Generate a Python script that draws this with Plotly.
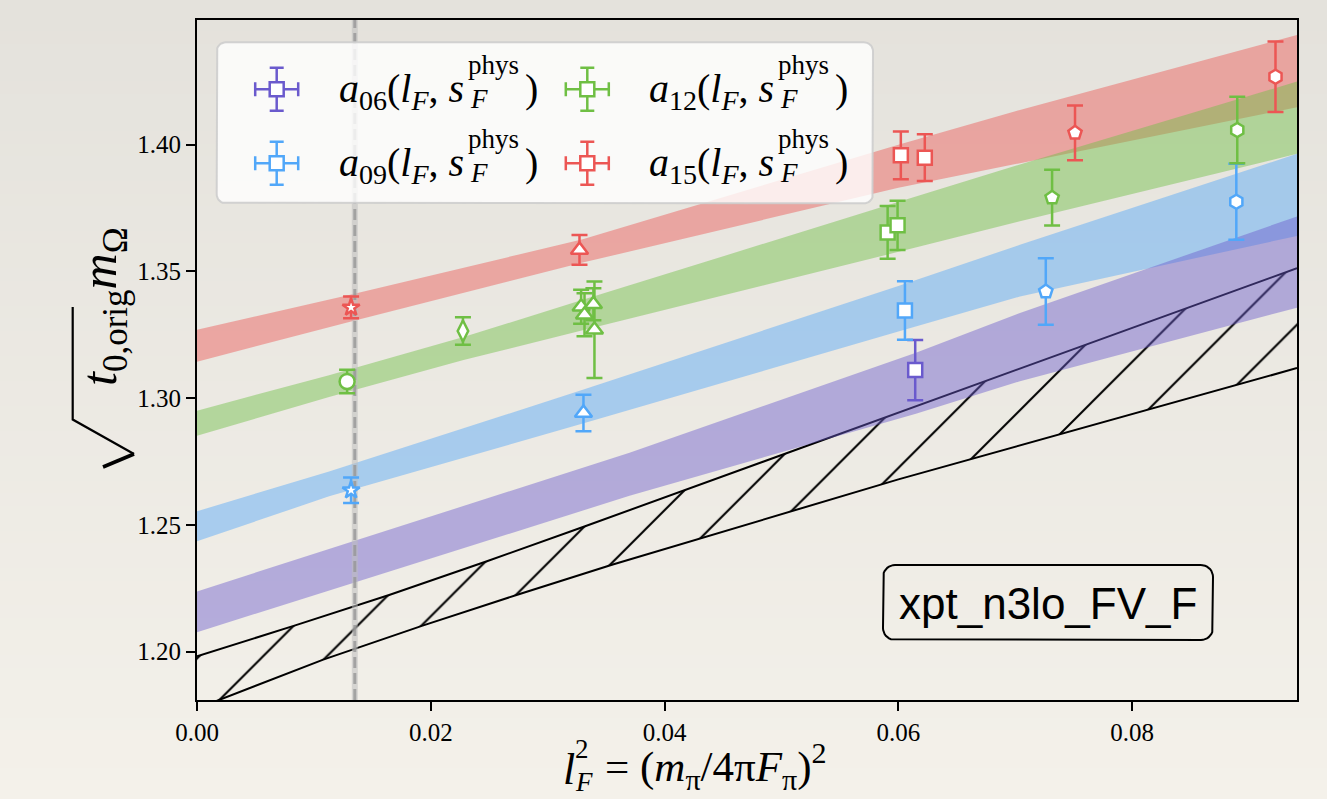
import base64
import struct
import zlib

import numpy as np
import plotly.graph_objects as go

# ---------------------------------------------------------------- data
PHYS_L2 = 0.0135          # physical point, l_F^2

# lattice results: x = l_F^2, y = sqrt(t0) m_Omega, err = 1 sigma
a06_x = [0.06144]
a06_y = [1.3111]
a06_err = [0.0119]
a06_sym = ["square"]

a09_x = [0.01318, 0.03306, 0.06056, 0.07261, 0.08891]
a09_y = [1.2637, 1.2942, 1.3346, 1.3421, 1.3775]
a09_err = [0.0050, 0.0072, 0.0115, 0.0131, 0.0150]
a09_sym = ["star", "triangle-up", "square", "pentagon", "hexagon"]

a12_x = [0.01284, 0.02275, 0.03286, 0.03315, 0.03391, 0.03400,
         0.05908, 0.05993, 0.07315, 0.08899]
a12_y = [1.3066, 1.3265, 1.3361, 1.3329, 1.3371, 1.3270,
         1.3654, 1.3682, 1.3791, 1.4058]
a12_err = [0.0046, 0.0054, 0.0067, 0.0085, 0.0063, 0.0190,
           0.0104, 0.0097, 0.0110, 0.0131]
a12_sym = ["circle", "diamond-tall", "triangle-up", "triangle-up",
           "triangle-up", "triangle-up", "square", "square",
           "pentagon", "hexagon"]

a15_x = [0.01318, 0.03272, 0.06021, 0.06226, 0.07511, 0.09226]
a15_y = [1.3358, 1.3585, 1.3958, 1.3949, 1.4047, 1.4268]
a15_err = [0.0043, 0.0059, 0.0094, 0.0092, 0.0108, 0.0139]
a15_sym = ["star", "triangle-up", "square", "square", "pentagon", "hexagon"]

# fit bands at fixed lattice spacing (lower / upper edge)
band15_x = [0.0, 0.0131, 0.033, 0.060, 0.0704, 0.0941]
band15_lo = [1.3144, 1.3302, 1.3535, 1.3830, 1.3927, 1.4148]
band15_hi = [1.3270, 1.3408, 1.3627, 1.4000, 1.4137, 1.4433]

band12_x = [0.0, 0.0113, 0.0228, 0.033, 0.059, 0.0704, 0.0941]
band12_lo = [1.2852, 1.3005, 1.3151, 1.3268, 1.3566, 1.3698, 1.3964]
band12_hi = [1.2951, 1.3091, 1.3241, 1.3388, 1.3760, 1.3922, 1.4249]

band09_x = [0.0, 0.0113, 0.033, 0.060, 0.0704, 0.0941]
band09_lo = [1.2436, 1.2613, 1.2900, 1.3263, 1.3401, 1.3640]
band09_hi = [1.2554, 1.2711, 1.3033, 1.3443, 1.3605, 1.3964]

band06_x = [0.0, 0.037, 0.0615, 0.0704, 0.0941]
band06_lo = [1.2077, 1.2615, 1.2939, 1.3067, 1.3357]
band06_hi = [1.2238, 1.2785, 1.3179, 1.3336, 1.3717]

# continuum extrapolation band (hatched)
cont_hi_x = [0.0, 0.0084, 0.0165, 0.0248, 0.0332, 0.060, 0.0941]
cont_hi_y = [1.1982, 1.2104, 1.2225, 1.2357, 1.2495, 1.2943, 1.3513]
cont_lo_x = [0.0, 0.0108, 0.0193, 0.0274, 0.0355, 0.060, 0.0941]
cont_lo_y = [1.1776, 1.1969, 1.2103, 1.2225, 1.2343, 1.2680, 1.3119]

x_ticks = [0.00, 0.02, 0.04, 0.06, 0.08]
y_ticks = [1.20, 1.25, 1.30, 1.35, 1.40]

# ---------------------------------------------------------------- style
C06 = "#6A5ACD"
C09 = "#51A7F9"
C12 = "#6FBF44"
C15 = "#EC5654"
BAND_ALPHA = 0.45

W, H = 1327, 799
ML, MR, MT, MB = 197, 30, 20, 99
X_RANGE = [0.0, 0.0941]
Y_RANGE = [1.18096, 1.44919]

SERIF = "Liberation Serif, DejaVu Serif, serif"
SANS = "Liberation Sans, Arial, sans-serif"
SYM_SIZE = {"square": 14, "star": 13, "triangle-up": 15, "pentagon": 14,
            "hexagon": 14, "circle": 15, "diamond-tall": 15}


def rgba(hex_color, a):
    h = hex_color.lstrip("#")
    r, g, b = (int(h[i:i + 2], 16) for i in (0, 2, 4))
    return f"rgba({r},{g},{b},{a})"


def gradient_png(top_rgb, bottom_rgb, h=64):
    rows = []
    for j in range(h):
        t = j / (h - 1)
        c = bytes(int(round(a + (b - a) * t)) for a, b in zip(top_rgb, bottom_rgb))
        rows.append(b"\x00" + c)
    raw = b"".join(rows)

    def chunk(tag, data):
        return (struct.pack(">I", len(data)) + tag + data +
                struct.pack(">I", zlib.crc32(tag + data) & 0xFFFFFFFF))

    png = (b"\x89PNG\r\n\x1a\n" +
           chunk(b"IHDR", struct.pack(">IIBBBBB", 1, h, 8, 2, 0, 0, 0)) +
           chunk(b"IDAT", zlib.compress(raw)) + chunk(b"IEND", b""))
    return "data:image/png;base64," + base64.b64encode(png).decode()


def rounded_rect(x0, y0, x1, y1, r, n=10):
    """Closed outline of a rounded box in pixel space (y grows downward)."""
    xs, ys = [], []
    for cx, cy, a0, a1 in [(x1 - r, y0 + r, -90, 0), (x1 - r, y1 - r, 0, 90),
                           (x0 + r, y1 - r, 90, 180), (x0 + r, y0 + r, 180, 270)]:
        for t in np.radians(np.linspace(a0, a1, n)):
            xs.append(cx + r * np.cos(t))
            ys.append(cy + r * np.sin(t))
    xs.append(xs[0])
    ys.append(ys[0])
    return xs, ys


def px_to_paper(px, py):
    return (px - ML) / (W - ML - MR), (H - MB - py) / (H - MT - MB)


def paper_path(points):
    pts = [px_to_paper(px, py) for px, py in points]
    return "M " + " L ".join(f"{a:.5f},{b:.5f}" for a, b in pts)


def page_text(px, py, text, size, xanchor="left", angle=0):
    x, y = px_to_paper(px, py)
    return dict(x=x, y=y, xref="paper", yref="paper", xanchor=xanchor,
                yanchor="middle", textangle=angle, text=text, showarrow=False,
                font=dict(family=SERIF, size=size, color="black"))


fig = go.Figure()

# ---- hatched continuum band
poly_x = list(cont_hi_x) + list(cont_lo_x[::-1])
poly_y = list(cont_hi_y) + list(cont_lo_y[::-1])
fig.add_trace(go.Scatter(
    x=poly_x, y=poly_y, mode="none", fill="toself",
    fillcolor="rgba(0,0,0,0)",
    fillpattern=dict(shape="/", size=45.15, solidity=0.045, fgcolor="black",
                     bgcolor="rgba(0,0,0,0)", fgopacity=1),
    hoverinfo="skip", showlegend=False))
for bx, by in [(cont_hi_x, cont_hi_y), (cont_lo_x, cont_lo_y)]:
    fig.add_trace(go.Scatter(x=bx, y=by, mode="lines",
                             line=dict(color="black", width=2),
                             hoverinfo="skip", showlegend=False))

# ---- fit bands (coarsest first)
for bx, lo, hi, col in [(band15_x, band15_lo, band15_hi, C15),
                        (band12_x, band12_lo, band12_hi, C12),
                        (band09_x, band09_lo, band09_hi, C09),
                        (band06_x, band06_lo, band06_hi, C06)]:
    fig.add_trace(go.Scatter(
        x=list(bx) + list(bx[::-1]), y=list(hi) + list(lo[::-1]),
        mode="none", fill="toself", fillcolor=rgba(col, BAND_ALPHA),
        hoverinfo="skip", showlegend=False))

# ---- physical point
fig.add_trace(go.Scatter(x=[PHYS_L2, PHYS_L2], y=Y_RANGE, mode="lines",
                         line=dict(color="rgba(190,190,190,0.55)", width=6),
                         hoverinfo="skip", showlegend=False))
fig.add_trace(go.Scatter(x=[PHYS_L2, PHYS_L2], y=Y_RANGE, mode="lines",
                         line=dict(color="rgba(150,150,150,0.8)", width=3,
                                   dash="11px,5px"),
                         hoverinfo="skip", showlegend=False))

# ---- lattice data
for xs, ys, es, syms, col in [(a06_x, a06_y, a06_err, a06_sym, C06),
                              (a09_x, a09_y, a09_err, a09_sym, C09),
                              (a12_x, a12_y, a12_err, a12_sym, C12),
                              (a15_x, a15_y, a15_err, a15_sym, C15)]:
    fig.add_trace(go.Scatter(
        x=xs, y=ys, mode="markers",
        error_y=dict(type="data", array=es, color=col, thickness=2.5, width=8),
        marker=dict(symbol=syms, size=[SYM_SIZE[s] for s in syms],
                    color="white", opacity=1, line=dict(color=col, width=2.5)),
        hoverinfo="skip", showlegend=False))

# ---- legend and label boxes, drawn on a pixel overlay
lx, ly = rounded_rect(216.7, 42.3, 873, 203.3, 9)
fig.add_trace(go.Scatter(x=lx, y=ly, xaxis="x2", yaxis="y2", mode="lines",
                         fill="toself", fillcolor="rgba(255,255,255,0.8)",
                         line=dict(color="rgba(205,205,205,0.9)", width=2),
                         hoverinfo="skip", showlegend=False))
tx, ty = rounded_rect(883, 565, 1213, 640, 12)
fig.add_trace(go.Scatter(x=tx, y=ty, xaxis="x2", yaxis="y2", mode="lines",
                         line=dict(color="black", width=2),
                         hoverinfo="skip", showlegend=False))

legend_items = [("06", C06, 276.7, 89.3), ("09", C09, 276.7, 163.3),
                ("12", C12, 587.3, 89.3), ("15", C15, 587.3, 163.3)]
for tag, col, cx, cy in legend_items:
    fig.add_trace(go.Scatter(
        x=[cx], y=[cy], xaxis="x2", yaxis="y2", mode="markers",
        error_x=dict(type="data", array=[21.5], color=col, thickness=2.5, width=7),
        error_y=dict(type="data", array=[21.5], color=col, thickness=2.5, width=7),
        marker=dict(symbol="square", size=14, color="white",
                    line=dict(color=col, width=2.5)),
        hoverinfo="skip", showlegend=False))

annotations = []
for tag, col, cx, cy in legend_items:
    x_s = cx + 189          # end of "s"
    annotations += [
        dict(x=x_s, y=cy + 2, xref="x2", yref="y2", xanchor="right", yanchor="middle",
             text=f"<i>a</i><sub>{tag}</sub>(<i>l<sub>F</sub></i>, <i>s</i>",
             showarrow=False, font=dict(family=SERIF, size=40, color="black")),
        dict(x=x_s, y=cy - 24, xref="x2", yref="y2", xanchor="left", yanchor="middle",
             text="phys", showarrow=False,
             font=dict(family=SERIF, size=27, color="black")),
        dict(x=x_s + 2, y=cy + 10, xref="x2", yref="y2", xanchor="left", yanchor="middle",
             text="<i>F</i>", showarrow=False,
             font=dict(family=SERIF, size=27, color="black")),
        dict(x=x_s + 57, y=cy - 1, xref="x2", yref="y2", xanchor="left", yanchor="middle",
             text=")", showarrow=False,
             font=dict(family=SERIF, size=40, color="black")),
    ]

annotations.append(dict(
    x=1048, y=603, xref="x2", yref="y2", xanchor="center", yanchor="middle",
    text="xpt_n3lo_FV_F", showarrow=False,
    font=dict(family=SANS, size=44, color="black")))

# x title: l with stacked subscript F and exponent 2, then the definition
annotations += [
    page_text(561, 769, "<i>l</i>", 44),
    page_text(573, 749, "2", 27),
    page_text(573, 782, "<i>F</i>", 27),
    page_text(603, 766, "=&nbsp;(<i>m</i><sub>π</sub>/4π<i>F</i><sub>π</sub>)<sup>2</sup>", 43),
]
# y title (the radical sign is drawn as a shape below)
annotations.append(page_text(103, 307, "<i>t</i><sub>0,orig</sub><i>m</i><sub>Ω</sub>",
                             50, xanchor="center", angle=-90))

shapes = [
    dict(type="path", xref="paper", yref="paper",
         path=paper_path([(134, 454), (72.7, 419.5), (72.7, 307)]),
         line=dict(color="black", width=2.2)),
    dict(type="path", xref="paper", yref="paper",
         path=paper_path([(103, 467), (134, 454)]),
         line=dict(color="black", width=3.6)),
]

axis_common = dict(
    showgrid=False, zeroline=False, showline=True, linecolor="black",
    linewidth=2, mirror=True, ticks="outside", ticklen=9, tickwidth=2,
    tickcolor="black", tickfont=dict(family=SERIF, size=25, color="black"),
    tickformat=".2f")

fig.update_layout(
    width=W, height=H, autosize=False,
    margin=dict(l=ML, r=MR, t=MT, b=MB, pad=0),
    paper_bgcolor="#ebe8e1", plot_bgcolor="rgba(0,0,0,0)",
    showlegend=False,
    xaxis=dict(range=X_RANGE, tickvals=x_ticks, **axis_common),
    yaxis=dict(range=Y_RANGE, tickvals=y_ticks, **axis_common),
    xaxis2=dict(range=[ML, W - MR], overlaying="x", anchor="y2", visible=False),
    yaxis2=dict(range=[H - MB, MT], overlaying="y", anchor="x2", visible=False),
    annotations=annotations,
    shapes=shapes,
    images=[dict(source=gradient_png((228, 226, 220), (244, 241, 234)),
                 xref="paper", yref="paper",
                 x=-ML / (W - ML - MR), y=(H - MB) / (H - MT - MB),
                 sizex=W / (W - ML - MR), sizey=H / (H - MT - MB),
                 xanchor="left", yanchor="top", sizing="stretch",
                 layer="below")],
)

fig.write_html("out.html")
